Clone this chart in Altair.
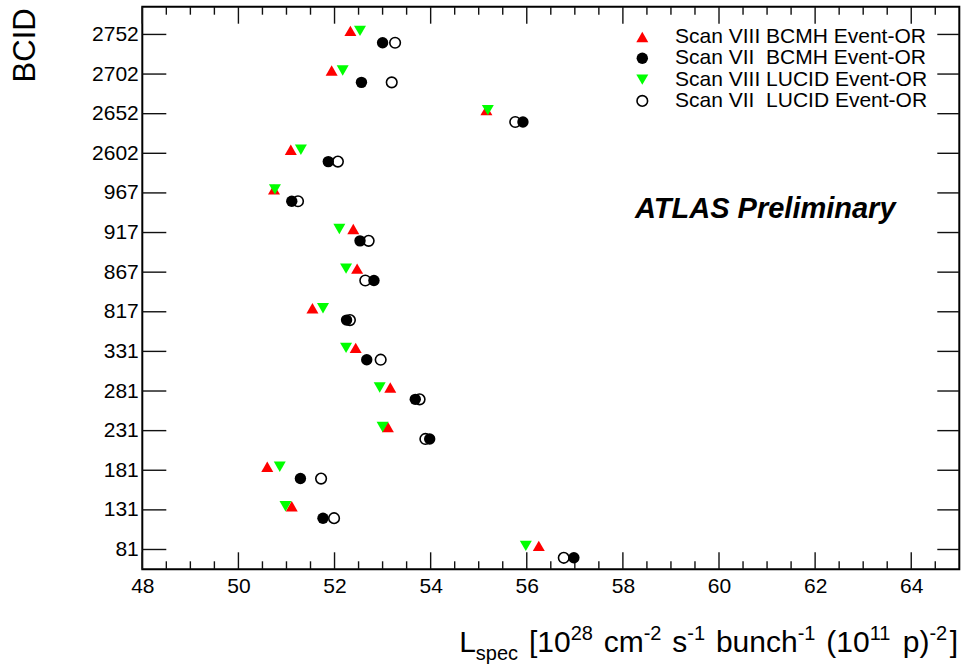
import altair as alt
import pandas as pd

# ---------------- data ----------------
bcid_labels = ["81", "131", "181", "231", "281", "331", "817", "867",
               "917", "967", "2602", "2652", "2702", "2752"]
scan8_bcmh = [56.25, 51.11, 50.60, 53.11, 53.16, 52.44, 51.54, 52.47,
              52.39, 50.74, 51.09, 55.16, 51.94, 52.33]
scan7_bcmh = [56.98, 51.76, 51.29, 53.98, 53.68, 52.67, 52.25, 52.82,
              52.53, 51.11, 51.87, 55.92, 52.56, 53.00]
scan8_lucid = [55.98, 50.98, 50.86, 53.00, 52.94, 52.24, 51.76, 52.24,
               52.10, 50.76, 51.30, 55.19, 52.17, 52.53]
scan7_lucid = [56.77, 51.99, 51.72, 53.89, 53.77, 52.96, 52.32, 52.64,
               52.71, 51.24, 52.07, 55.76, 53.19, 53.26]

series_names = ["Scan VIII BCMH Event-OR", "Scan VII\u00a0 BCMH Event-OR",
                "Scan VIII LUCID Event-OR", "Scan VII\u00a0 LUCID Event-OR"]
series_values = [scan8_bcmh, scan7_bcmh, scan8_lucid, scan7_lucid]

x_major = [48, 50, 52, 54, 56, 58, 60, 62, 64]
x_minor = [48.5, 49, 49.5, 50.5, 51, 51.5, 52.5, 53, 53.5, 54.5, 55, 55.5,
           56.5, 57, 57.5, 58.5, 59, 59.5, 60.5, 61, 61.5, 62.5, 63, 63.5, 64.5]

# ---------------- layout ----------------
FONT = "Liberation Sans"
PL, PT = 142.3, 6.7
W, H = 817, 562.6
PAD = {"left": PL, "top": PT, "right": 963 - PL - W, "bottom": 672 - PT - H}

xscale = alt.Scale(domain=[48, 65], nice=False, zero=False)
yscale = alt.Scale(domain=[-0.5, 13.7], nice=False, zero=False)

label_expr = "[" + ",".join("'%s'" % b for b in bcid_labels) + "][datum.value]"
xaxis = alt.Axis(values=x_major, tickSize=0, domain=False, grid=False,
                 labelFontSize=21, labelFont=FONT, labelColor="black",
                 labelPadding=6, labelFlush=False, labelOverlap=False)
yaxis = alt.Axis(values=list(range(len(bcid_labels))), labelExpr=label_expr,
                 tickSize=0, domain=False, grid=False, labelFontSize=21,
                 labelFont=FONT, labelColor="black", labelPadding=4,
                 labelOverlap=False)

styles = [
    dict(shape="triangle-up", color="#ff0000", filled=True, size=144, off=0.09),
    dict(shape="circle", color="black", filled=True, size=130, off=-0.21),
    dict(shape="triangle-down", color="#00ff00", filled=True, size=144, off=0.09),
    dict(shape="circle", color="black", filled=False, size=112, off=-0.21),
]

rows = []
for name, vals in zip(series_names, series_values):
    for i, v in enumerate(vals):
        rows.append({"series": name, "idx": i, "value": v})
df = pd.DataFrame(rows)

def point_mark(st):
    if st["filled"]:
        return dict(shape=st["shape"], filled=True, color=st["color"],
                    size=st["size"], opacity=1, strokeWidth=0)
    return dict(shape=st["shape"], filled=False, stroke=st["color"],
                size=st["size"], opacity=1, strokeWidth=1.6)

layers = []

# tick marks (inward, ROOT style)
tick_col = "#111111"
maj = pd.DataFrame({"v": x_major})
mnr = pd.DataFrame({"v": x_minor})
for d, ln in ((maj, 17), (mnr, 8)):
    for y0, y1 in ((H, H - ln), (0, ln)):
        layers.append(
            alt.Chart(d).mark_rule(color=tick_col, strokeWidth=1.4).encode(
                x=alt.X("v:Q", scale=xscale, axis=xaxis, title=None),
                y=alt.value(y0), y2=alt.value(y1)))
yt = pd.DataFrame({"i": list(range(len(bcid_labels)))})
for x0, x1 in ((0, 24), (W - 22, W)):
    layers.append(
        alt.Chart(yt).mark_rule(color=tick_col, strokeWidth=1.4).encode(
            y=alt.Y("i:Q", scale=yscale, axis=yaxis, title=None),
            x=alt.value(x0), x2=alt.value(x1)))

# data points
for name, st in zip(series_names, styles):
    layers.append(
        alt.Chart(df).transform_filter(alt.datum.series == name)
        .transform_calculate(ypos="datum.idx + (%f)" % st["off"])
        .mark_point(**point_mark(st)).encode(
            x=alt.X("value:Q", scale=xscale, axis=xaxis, title=None),
            y=alt.Y("ypos:Q", scale=yscale, axis=yaxis, title=None)))

one = pd.DataFrame({"a": [0]})

# legend
leg_x = 642.3 - PL
leg_y0 = 37.0 - PT
leg_dy = 21.3
for k, (name, st) in enumerate(zip(series_names, styles)):
    yk = leg_y0 + k * leg_dy
    layers.append(alt.Chart(one).mark_point(**point_mark(st)).encode(
        x=alt.value(leg_x), y=alt.value(yk)))
    layers.append(alt.Chart(one).mark_text(
        text=name, font=FONT, fontSize=21, color="black", align="left",
        baseline="middle").encode(x=alt.value(675 - PL), y=alt.value(yk)))

# ATLAS label
layers.append(alt.Chart(one).mark_text(
    text="ATLAS Preliminary", font=FONT, fontSize=29, fontWeight="bold",
    fontStyle="italic", color="black", align="left", baseline="alphabetic"
).encode(x=alt.value(635 - PL), y=alt.value(218 - PT)))

# y title
layers.append(alt.Chart(one).mark_text(
    text="BCID", font=FONT, fontSize=31, color="black", angle=270,
    align="right", baseline="alphabetic"
).encode(x=alt.value(35 - PL), y=alt.value(8.3 - PT)))

# x title with super/subscripts
AW = {" ": .278, "[": .278, "]": .278, "(": .333, ")": .333, "-": .333,
      "L": .556, "c": .5, "s": .5, "m": .833, "p": .556, "e": .556,
      "b": .556, "u": .556, "n": .556, "h": .556}
def tw(s, size):
    return sum(AW.get(c, .556) for c in s) * size

MAIN, SCR, GAP = 30, 20, 2.5
pieces = [("L", "m"), ("spec", "sub"), (" [10", "m"), ("28", "sup"),
          (" cm", "m"), ("-2", "sup"), (" s", "m"), ("-1", "sup"),
          (" bunch", "m"), ("-1", "sup"), (" (10", "m"), ("11", "sup"),
          (" p)", "m"), ("-2", "sup"), ("]", "m")]
def pw(t, kind):
    return tw(t, MAIN) if kind == "m" else tw(t, SCR) + GAP
total = sum(pw(t, k) for t, k in pieces)
cur = 958 - total - PL
base = 652.3 - PT
for t, kind in pieces:
    stripped = t.lstrip(" ")
    lead = tw(t[:len(t) - len(stripped)], MAIN if kind == "m" else SCR)
    size = MAIN if kind == "m" else SCR
    yb = base if kind == "m" else (base + 8 if kind == "sub" else base - 12)
    layers.append(alt.Chart(one).mark_text(
        text=stripped, font=FONT, fontSize=size, color="black", align="left",
        baseline="alphabetic").encode(x=alt.value(cur + lead), y=alt.value(yb)))
    cur += pw(t, kind)

chart = alt.layer(*layers).properties(
    width=W, height=H, padding=PAD,
    autosize=alt.AutoSizeParams(type="none"),
    background="white",
).configure_view(stroke="black", strokeWidth=2)

chart.save("out.html", embed_options={"renderer": "svg", "actions": False})
